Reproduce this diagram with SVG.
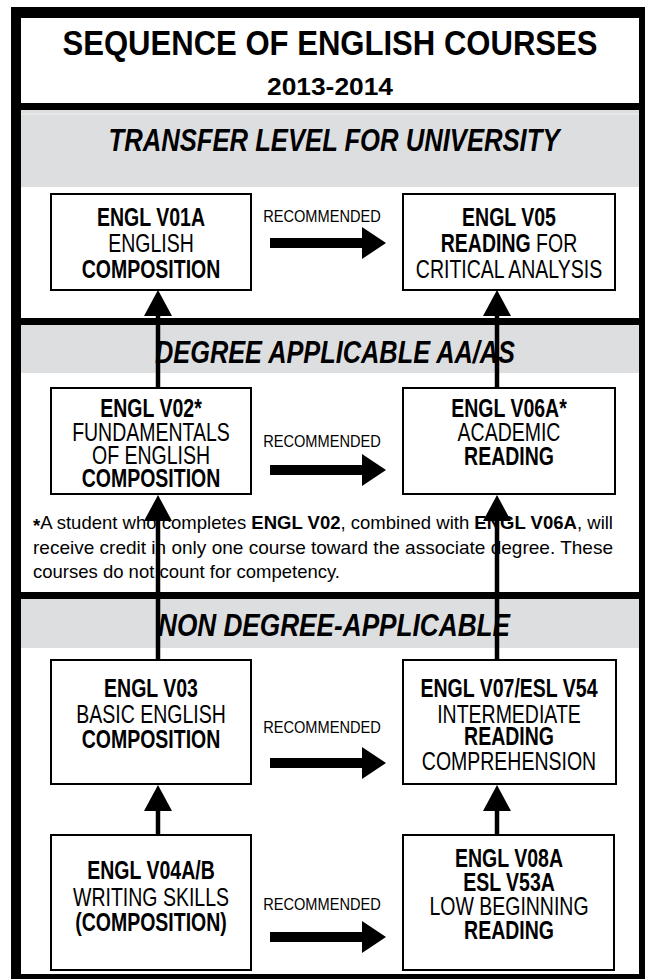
<svg xmlns="http://www.w3.org/2000/svg" width="645" height="979" viewBox="0 0 645 979">
<style>
  .t{font-family:"Liberation Sans",Arial,sans-serif;fill:#000}
  .b{font-weight:bold}
  .sec{font-family:"Liberation Sans",Arial,sans-serif;font-weight:bold;font-style:italic;font-size:31px;text-anchor:middle}
  .nt{font-family:"Liberation Sans",Arial,sans-serif;font-size:25px;text-anchor:middle}
  .rec{font-family:"Liberation Sans",Arial,sans-serif;font-size:17px;text-anchor:middle}
  .note{font-family:"Liberation Sans",Arial,sans-serif;font-size:19px}
  .box{fill:#fff;stroke:#000;stroke-width:2}
  .gray{fill:#dddee0}
  .vl{stroke:#000;stroke-width:4.5;fill:none;marker-end:url(#ah)}
</style>
<defs>
  <marker id="ah" viewBox="0 0 26 28" refX="20" refY="14" markerWidth="26" markerHeight="28" markerUnits="userSpaceOnUse" orient="auto">
    <path d="M0,0 L26,14 L0,28 Z" fill="#000"/>
  </marker>
  <path id="harrow" d="M0,-5 H92 V-16 L116,0 L92,16 V5 H0 Z" fill="#000"/>
</defs>

<!-- frame -->
<rect x="11" y="7" width="634" height="972" fill="#000"/>
<rect x="21" y="18" width="618" height="956" fill="#fff"/>

<!-- header -->
<g id="header">
  <text class="t b" x="330" y="55" font-size="35" text-anchor="middle" textLength="535" lengthAdjust="spacingAndGlyphs">SEQUENCE OF ENGLISH COURSES</text>
  <text class="t b" x="330" y="95" font-size="24" text-anchor="middle" textLength="126" lengthAdjust="spacingAndGlyphs">2013-2014</text>
</g>

<!-- bands -->
<rect x="21" y="103" width="618" height="7" fill="#000"/>
<rect class="gray" x="21" y="110" width="618" height="77"/>
<line x1="21" y1="114" x2="639" y2="114" stroke="#f2f2f2" stroke-width="1"/>
<rect x="21" y="318" width="618" height="7" fill="#000"/>
<rect class="gray" x="21" y="325" width="618" height="48"/>
<rect x="21" y="592" width="618" height="7" fill="#000"/>
<rect class="gray" x="21" y="599" width="618" height="49"/>

<g id="sections">
  <text class="sec" x="334" y="151" textLength="451" lengthAdjust="spacingAndGlyphs">TRANSFER LEVEL FOR UNIVERSITY</text>
  <text class="sec" x="335" y="363" textLength="360" lengthAdjust="spacingAndGlyphs">DEGREE APPLICABLE AA/AS</text>
  <text class="sec" x="334" y="636" textLength="352" lengthAdjust="spacingAndGlyphs">NON DEGREE-APPLICABLE</text>
</g>

<!-- nodes -->
<g id="engl-v01a">
  <rect class="box" x="51" y="194" width="200" height="96"/>
  <g transform="matrix(0.78 0 0 1 151 0)">
    <text class="nt b" x="0" y="226">ENGL V01A</text>
    <text class="nt" x="0" y="252">ENGLISH</text>
    <text class="nt b" x="0" y="278">COMPOSITION</text>
  </g>
</g>
<g id="engl-v05">
  <rect class="box" x="403" y="194" width="212" height="96"/>
  <g transform="matrix(0.78 0 0 1 509 0)">
    <text class="nt b" x="0" y="226">ENGL V05</text>
    <text class="nt" x="0" y="252"><tspan class="b">READING</tspan> FOR</text>
    <text class="nt" x="0" y="278">CRITICAL ANALYSIS</text>
  </g>
</g>
<g id="engl-v02">
  <rect class="box" x="51" y="388" width="200" height="106"/>
  <g transform="matrix(0.78 0 0 1 151 0)">
    <text class="nt b" x="0" y="417">ENGL V02*</text>
    <text class="nt" x="0" y="441">FUNDAMENTALS</text>
    <text class="nt" x="0" y="464">OF ENGLISH</text>
    <text class="nt b" x="0" y="487">COMPOSITION</text>
  </g>
</g>
<g id="engl-v06a">
  <rect class="box" x="403" y="388" width="212" height="106"/>
  <g transform="matrix(0.78 0 0 1 509 0)">
    <text class="nt b" x="0" y="417">ENGL V06A*</text>
    <text class="nt" x="0" y="441">ACADEMIC</text>
    <text class="nt b" x="0" y="465">READING</text>
  </g>
</g>
<g id="engl-v03">
  <rect class="box" x="51" y="660" width="200" height="124"/>
  <g transform="matrix(0.78 0 0 1 151 0)">
    <text class="nt b" x="0" y="697">ENGL V03</text>
    <text class="nt" x="0" y="723">BASIC ENGLISH</text>
    <text class="nt b" x="0" y="748">COMPOSITION</text>
  </g>
</g>
<g id="engl-v07">
  <rect class="box" x="403" y="660" width="213" height="124"/>
  <g transform="matrix(0.78 0 0 1 509 0)">
    <text class="nt b" x="0" y="697">ENGL V07/ESL V54</text>
    <text class="nt" x="0" y="723">INTERMEDIATE</text>
    <text class="nt b" x="0" y="745">READING</text>
    <text class="nt" x="0" y="770">COMPREHENSION</text>
  </g>
</g>
<g id="engl-v04ab">
  <rect class="box" x="51" y="835" width="200" height="135"/>
  <g transform="matrix(0.78 0 0 1 151 0)">
    <text class="nt b" x="0" y="879">ENGL V04A/B</text>
    <text class="nt" x="0" y="906">WRITING SKILLS</text>
    <text class="nt b" x="0" y="931">(COMPOSITION)</text>
  </g>
</g>
<g id="engl-v08a">
  <rect class="box" x="403" y="835" width="211" height="135"/>
  <g transform="matrix(0.78 0 0 1 509 0)">
    <text class="nt b" x="0" y="867">ENGL V08A</text>
    <text class="nt b" x="0" y="891">ESL V53A</text>
    <text class="nt" x="0" y="915">LOW BEGINNING</text>
    <text class="nt b" x="0" y="939">READING</text>
  </g>
</g>

<!-- note -->
<g id="note">
  <text class="note" x="33" y="529" textLength="580" lengthAdjust="spacingAndGlyphs"><tspan class="b" dy="3">*</tspan><tspan dy="-3">A student who completes </tspan><tspan class="b">ENGL V02</tspan>, combined with <tspan class="b">ENGL V06A</tspan>, will</text>
  <text class="note" x="33" y="554" textLength="580" lengthAdjust="spacingAndGlyphs">receive credit in only one course toward the associate degree. These</text>
  <text class="note" x="33" y="578" textLength="307" lengthAdjust="spacingAndGlyphs">courses do not count for competency.</text>
</g>

<!-- connectors -->
<g id="connectors">
  <g transform="matrix(0.86 0 0 1 322 0)">
    <text class="rec" x="0" y="222">RECOMMENDED</text>
    <text class="rec" x="0" y="447">RECOMMENDED</text>
    <text class="rec" x="0" y="733">RECOMMENDED</text>
    <text class="rec" x="0" y="910">RECOMMENDED</text>
  </g>
  <use href="#harrow" x="270" y="243"/>
  <use href="#harrow" x="270" y="470"/>
  <use href="#harrow" x="270" y="763"/>
  <use href="#harrow" x="270" y="937"/>
  <line class="vl" x1="158" y1="388" x2="158" y2="296"/>
  <line class="vl" x1="497" y1="388" x2="497" y2="296"/>
  <line class="vl" x1="158" y1="660" x2="158" y2="501"/>
  <line class="vl" x1="497" y1="660" x2="497" y2="501"/>
  <line class="vl" x1="158" y1="835" x2="158" y2="791"/>
  <line class="vl" x1="497" y1="835" x2="497" y2="791"/>
</g>
</svg>
